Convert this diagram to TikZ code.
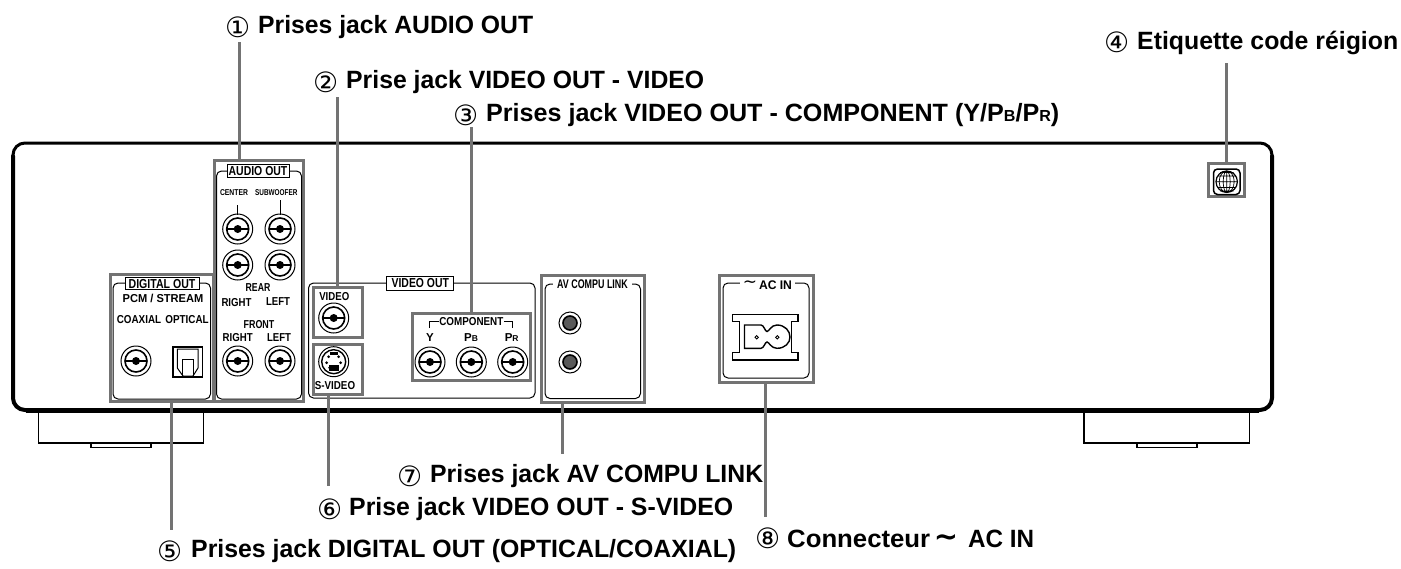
\documentclass[tikz,border=0pt]{standalone}
\usepackage{fontspec}
\usepackage{graphicx}
\setmainfont{Liberation Sans}
\newfontfamily\circfont{DejaVu Sans}
\tikzset{x=1pt,y=-1pt,
 grey/.style={draw=black!55,line width=3pt},
 lead/.style={draw=black!55,line width=3pt},
 inner/.style={draw=black,line width=1pt,rounded corners=5pt},
 thin/.style={draw=black,line width=1pt},
 captxt/.style={font=\bfseries\fontsize{25}{25}\selectfont,inner sep=0pt,anchor=west},
 num/.style={font=\circfont\fontsize{28}{28}\selectfont,inner sep=0pt,anchor=west},
 lab/.style={font=\bfseries\fontsize{11.5}{11.5}\selectfont,inner sep=0pt},
 tiny/.style={font=\bfseries\fontsize{8.5}{8.5}\selectfont,inner sep=0pt},
 tab/.style={draw=black,line width=1pt,fill=white,font=\bfseries\fontsize{13}{13}\selectfont,inner sep=0pt,minimum height=13.5pt},
 gaplab/.style={fill=white,font=\bfseries\fontsize{12.5}{12.5}\selectfont,inner xsep=4pt,inner ysep=2pt},
}
\newcommand{\rca}[2]{%
 \draw[thin,line width=1pt] (#1,#2) circle (15);
 \draw[thin,line width=1.6pt] (#1,#2) circle (11);
 \draw[thin,line width=1.2pt] (#1-11,#2) -- (#1+11,#2);
 \fill (#1,#2) circle (4);
}
\newcommand{\mini}[2]{%
 \draw[thin,line width=1pt] (#1,#2) circle (11);
 \draw[black,line width=1.6pt,fill=black!65] (#1,#2) circle (7);
}
\newcommand{\fitw}[2]{\resizebox{#1pt}{\height}{#2}}
\begin{document}
\begin{tikzpicture}
\useasboundingbox (0,0) rectangle (1401,568);
\fill[white] (0,0) rectangle (1401,568);
% feet
\draw[thin,line width=1.5pt] (38.5,410) -- (38.5,443) -- (203.5,443) -- (203.5,410);
\draw[thin,line width=1.5pt] (91,443) -- (91,447.5) -- (151,447.5) -- (151,443);
\draw[thin,line width=1.5pt] (1084,410) -- (1084,443) -- (1249.5,443) -- (1249.5,410);
\draw[thin,line width=1.5pt] (1137,443) -- (1137,447.5) -- (1197,447.5) -- (1197,443);
% body
\draw[black,line width=3pt,rounded corners=12pt] (13,143) -- (1272,143) -- (1272,410) -- (13,410) -- cycle;
\draw[black,line width=4pt,line cap=round,rounded corners=12pt] (1272,156) -- (1272,410) -- (13,410) -- (13,156);
\draw[black,line width=5pt] (26,410) -- (1259,410);
% VIDEO OUT frame
\draw[inner] (308.5,283) rectangle (535,398);
% grey frames
\draw[grey] (214,160.5) rectangle (303.5,401.5);
\draw[grey] (110.5,274) rectangle (213,401.5);
\draw[grey] (313,287.5) rectangle (362.5,337);
\draw[grey] (313,344.5) rectangle (362.5,394);
\draw[grey] (412,313) rectangle (530.5,380.5);
\draw[grey] (541,275) rectangle (644.5,402);
\draw[grey] (719.5,275) rectangle (813.5,382);
\draw[grey] (1208.5,163.5) rectangle (1244,196);
% inner frames
\draw[inner] (216.5,171) rectangle (301.5,399);
\draw[inner] (113,283) rectangle (210.5,399);
\draw[inner] (545,284) rectangle (640.5,398.5);
\draw[inner] (723,283) rectangle (809,378);
% tabs
\node[tab,minimum width=62pt] (aot) at (258,171) {\fitw{58.7}{AUDIO OUT}};
\node[tab,minimum width=74pt,minimum height=12pt] (dot) at (162,283.7) {\fitw{66.7}{DIGITAL OUT}};
\node[tab,minimum width=67pt] (vot) at (420.3,283.5) {\fitw{57.3}{VIDEO OUT}};
\node[gaplab] (avt) at (592.5,284) {\fitw{70.7}{AV COMPU LINK}};
\fill[white] (740,279) rectangle (795,290);
\node[font=\circfont\fontsize{17}{17}\selectfont,inner sep=0pt] (act1) at (750,284) {∼};
\node[font=\bfseries\fontsize{12.5}{12.5}\selectfont,inner sep=0pt] (act2) at (775.5,285) {\fitw{33}{AC IN}};
% audio labels
\node[tiny] (l1) at (234,193) {\fitw{28}{CENTER}};
\node[tiny] (l2) at (276.3,193) {\fitw{42.3}{SUBWOOFER}};
\draw[thin] (237.7,205) -- (237.7,215);
\draw[thin] (280,200) -- (280,215);
\rca{237.7}{229}\rca{280}{229}\rca{237.7}{265}\rca{280}{265}\rca{237.7}{361}\rca{280}{361}
\node[lab] (l3) at (258,288) {\fitw{24.7}{REAR}};
\node[lab] (l4) at (236.5,303) {\fitw{30}{RIGHT}};
\node[lab] (l5) at (278,302) {\fitw{24}{LEFT}};
\node[lab] (l6) at (259,325) {\fitw{30.7}{FRONT}};
\node[lab] (l7) at (237.7,338) {\fitw{30}{RIGHT}};
\node[lab] (l8) at (279,338) {\fitw{24}{LEFT}};
% digital
\node[lab] (l9) at (163,298) {\fitw{80.7}{PCM / STREAM}};
\node[lab] (l10) at (139,320) {\fitw{44.3}{COAXIAL}};
\node[lab] (l11) at (187,320) {\fitw{43.3}{OPTICAL}};
\rca{136}{361}
\draw[thin,line width=1.2pt] (173,347) rectangle (202.5,377);
\draw[thin] (177.3,349) -- (198,349) -- (198,368) -- (193,376) -- (183,376) -- (177.3,368) -- cycle;
\draw[thin] (182,359.3) rectangle (193.3,376);
% video
\node[lab] (l12) at (334.3,297) {\fitw{30}{VIDEO}};
\rca{333.7}{318}
\draw[thin,line width=1pt] (333.7,361.7) circle (15);
\draw[thin,line width=1.4pt] (333.7,361.7) circle (12);
\foreach \dx/\dy in {-5/-5,5/-5,-7/1,7/1,-4/6,4/6}{\fill (333.7+\dx,361.7+\dy) circle (1.5);}
\fill (329,365) rectangle (338.5,371);
\fill (330,351.5) rectangle (337.5,355);
\node[lab] (l13) at (335,386) {\fitw{40.3}{S-VIDEO}};
% component
\node[lab] (l14) at (471.3,322) {\fitw{64}{COMPONENT}};
\draw[thin] (429.3,328) -- (429.3,321) -- (438.5,321);
\draw[thin] (504,321) -- (512,321) -- (512,328);
\node[lab] (l15) at (430,338) {Y};
\node[lab] (l16) at (471,338) {P\fontsize{8.5}{8.5}\selectfont B};
\node[lab] (l17) at (511.7,338) {P\fontsize{8.5}{8.5}\selectfont R};
\rca{430}{362}\rca{471.3}{362}\rca{512.7}{362}
% av
\mini{570}{323}\mini{570}{362}
% AC inlet
\draw[thin,line width=1.4pt] (732.5,314.5) -- (798,314.5) -- (798,321.5) -- (791.5,321.5) -- (791.5,352.5) -- (798,352.5) -- (798,360) -- (732.5,360) -- (732.5,352.5) -- (739.5,352.5) -- (739.5,321.5) -- (732.5,321.5) -- cycle;
\draw[thin,line width=1.4pt] (744.5,325) -- (761,325) .. controls (764,325) and (765,331.5) .. (767,331.5) .. controls (769,331.5) and (771,325) .. (777,325) .. controls (785,325) and (790,331) .. (790,337) .. controls (790,343) and (785,348.3) .. (777,348.3) .. controls (771,348.3) and (769,342) .. (767,342) .. controls (765,342) and (764,348.3) .. (761,348.3) -- (744.5,348.3) -- cycle;
\draw[thin,line width=0.9pt] (756.7,337.3) circle (1.7) (777.3,337.3) circle (1.7);
% globe
\draw[thin,line width=1.5pt,rounded corners=4pt] (1213.5,169) rectangle (1240,194.5);
\draw[thin,line width=1.2pt] (1226.7,181.7) circle (10.7);
\draw[thin,line width=.7pt] (1226.7,181.7) ellipse (3.5 and 10.7) (1226.7,181.7) ellipse (7.5 and 10.7) (1226.7,171) -- (1226.7,192.4) (1216,181.7) -- (1237.4,181.7) (1217.5,176) -- (1236,176) (1217.5,187.4) -- (1236,187.4) (1220,172.5) -- (1233.5,172.5) (1220,191) -- (1233.5,191);
% leaders
\coordinate (c1) at (239,42); \coordinate (c1b) at (239,159);
\coordinate (c2) at (337.5,97); \coordinate (c2b) at (337.5,286);
\coordinate (c3) at (471,127); \coordinate (c3b) at (471,312);
\coordinate (c4) at (1226.7,63); \coordinate (c4b) at (1226.7,162);
\coordinate (c5) at (171.5,402); \coordinate (c5b) at (171.5,530);
\coordinate (c6) at (328,395); \coordinate (c6b) at (328,486);
\coordinate (c7) at (562,403); \coordinate (c7b) at (562,454);
\coordinate (c8) at (765.5,382); \coordinate (c8b) at (765.5,517);
\foreach \a/\b in {c1/c1b,c2/c2b,c3/c3b,c4/c4b,c5/c5b,c6/c6b,c7/c7b,c8/c8b}{\draw[lead] (\a) -- (\b);}
% captions
\node[num] (n1) at (225,27) {①}; \node[captxt] (t1) at (258,27.5) {\fitw{275}{Prises jack AUDIO OUT}};
\node[num] (n2) at (313,82) {②}; \node[captxt] (t2) at (346,82.5) {\fitw{358}{Prise jack VIDEO OUT - VIDEO}};
\node[num] (n3) at (453,115) {③}; \node[captxt] (t3) at (486,115.5) {\fitw{573}{Prises jack VIDEO OUT - COMPONENT (Y/P{\fontsize{16}{16}\selectfont B}/P{\fontsize{16}{16}\selectfont R})}};
\node[num] (n4) at (1104,42) {④}; \node[captxt] (t4) at (1137,42.5) {\fitw{261}{Etiquette code réigion}};
\node[num] (n5) at (157,551) {⑤}; \node[captxt] (t5) at (191,551.5) {\fitw{545}{Prises jack DIGITAL OUT (OPTICAL/COAXIAL)}};
\node[num] (n6) at (317,509) {⑥}; \node[captxt] (t6) at (349,509.5) {\fitw{384}{Prise jack VIDEO OUT - S-VIDEO}};
\node[num] (n7) at (397,476) {⑦}; \node[captxt] (t7) at (430,476.5) {\fitw{333}{Prises jack AV COMPU LINK}};
\node[num] (n8) at (755,538) {⑧}; \node[captxt] (t8) at (787,538.5) {\fitw{143}{Connecteur}};
\node[font=\circfont\bfseries\fontsize{29}{29}\selectfont,inner sep=0pt] (t8s) at (946,540) {∼};
\node[captxt] (t8c) at (968,538.5) {\fitw{66}{AC IN}};
\end{tikzpicture}
\end{document}
